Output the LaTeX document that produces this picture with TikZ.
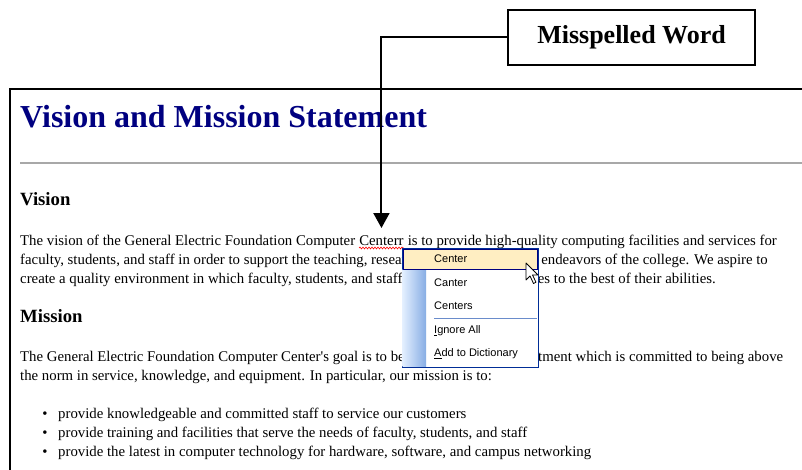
\documentclass[tikz,border=0pt]{standalone}
\usepackage{fontspec}
\setmainfont{Liberation Serif}
\newfontfamily\menufont{Liberation Sans}
\usetikzlibrary{arrows.meta,decorations.pathmorphing}
\definecolor{titleblue}{HTML}{000080}
\definecolor{rulegray}{HTML}{A8A8A8}
\definecolor{menuedge}{HTML}{002D96}
\definecolor{menuhi}{HTML}{FFEEC2}
\definecolor{menusep}{HTML}{6A8CCB}
\definecolor{stripl}{HTML}{E3EFFF}
\definecolor{stripr}{HTML}{87ADE4}
\tikzset{
  body/.style={anchor=base west, inner sep=0pt, font=\fontsize{14.8}{19}\selectfont},
  bodyr/.style={body, anchor=base east},
  dot/.style={anchor=base, inner sep=0pt, font=\fontsize{14.8}{19}\selectfont},
  head/.style={anchor=base west, inner sep=0pt, font=\fontsize{18.7}{22}\selectfont\bfseries},
  item/.style={anchor=west, inner sep=0pt, font=\menufont\fontsize{11}{13}\selectfont},
  conn/.style={line width=2pt, -{Triangle[width=16pt,length=15pt]}},
  squiggle/.style={red, line width=0.6pt, decorate, decoration={snake, amplitude=0.9pt, segment length=3pt}}
}

\begin{document}
\begin{tikzpicture}[x=1pt, y=-1pt]
			%%%%% START %%%%%
			\useasboundingbox (0,0) rectangle (802,470);
			
			% page frame
			\draw[line width=1.2pt] (802,89) -- (10,89) -- (10,470);
			
			% heading and rule
			\node[anchor=base west, inner sep=0pt, text=titleblue, font=\fontsize{32}{36}\selectfont\bfseries] (title) at (20,128) {Vision and Mission Statement};
			\draw[rulegray, line width=2pt] (20,163) -- (802,163);
			
			% vision
			\node[head] (h1) at (20,206) {Vision};
			\node[body] (l1a) at (20,245) {The vision of the General Electric Foundation Computer};
			\node[body, xshift=3.7pt] (cw) at (l1a.base east) {Centerr};
			\node[body, xshift=3.7pt] (l1b) at (cw.base east) {is to provide high-quality computing facilities and services for};
			\node[body] (l2a) at (20,264) {faculty, students, and staff in order to support the teaching, research,};
			\node[bodyr] (l2b) at (768,264) {endeavors of the college. We aspire to};
			\node[body] (l3a) at (20,283) {create a quality environment in which faculty, students, and staff};
			\node[bodyr] (l3b) at (716,283) {activities to the best of their abilities.};
			\draw[squiggle] ([yshift=-3pt]cw.base west) -- ([yshift=-3pt]cw.base east);
			
			% mission
			\node[head] (h2) at (20,322) {Mission};
			\node[body] (p2a) at (20,361) {The General Electric Foundation Computer Center\textquotesingle s goal is to be};
			\node[body] (p2b) at (538,361) {tment which is committed to being above};
			\node[bodyr] (p2p) at (p2b.base west) {depar};
			\node[body] (p2c) at (20,380) {the norm in service, knowledge, and equipment. In particular, our mission is to:};
			
			\node[dot] (d1) at (45,418) {\textbullet};
			\node[body] (i1) at (58,418) {provide knowledgeable and committed staff to service our customers};
			\node[dot] (d2) at (45,437) {\textbullet};
			\node[body] (i2) at (58,437) {provide training and facilities that serve the needs of faculty, students, and staff};
			\node[dot] (d3) at (45,456) {\textbullet};
			\node[body] (i3) at (58,456) {provide the latest in computer technology for hardware, software, and campus networking};
			
			% context menu
			\draw[menuedge, fill=white, line width=1pt] (402,248) rectangle (538,367);
			\shade[left color=stripl, right color=stripr] (402.5,269) rectangle (426,366.5);
			\draw[titleblue, fill=menuhi, line width=0.8pt] (403.5,249) rectangle (537,269);
			\draw[menusep, line width=0.8pt] (434,318) -- (537,318);
			\node[item] (m1) at (434,259) {Center};
			\node[item] (m2) at (434,283) {Canter};
			\node[item] (m3) at (434,306) {Centers};
			\node[item] (m4) at (434,331) {\underline{I}gnore All};
			\node[item] (m5) at (434,354) {\underline{A}dd to Dictionary};
			
			% mouse pointer
			\draw[fill=white, line width=0.8pt, line join=round] (526,263) -- ++(0,17) -- ++(4,-4) -- ++(3.5,7.5) -- ++(2.5,-1.2) -- ++(-3.5,-7.3) -- ++(5.5,0) -- cycle;
			
			% callout
			\node[draw, line width=1.5pt, fill=white, minimum width=247pt, minimum height=55pt, font=\fontsize{26}{30}\selectfont\bfseries] (mw) at (631.5,37.5) {Misspelled Word};
			\draw[conn] (mw.west) -| ([yshift=7pt]cw.north);
			
			%%%%% END %%%%%
\end{tikzpicture}
\end{document}
